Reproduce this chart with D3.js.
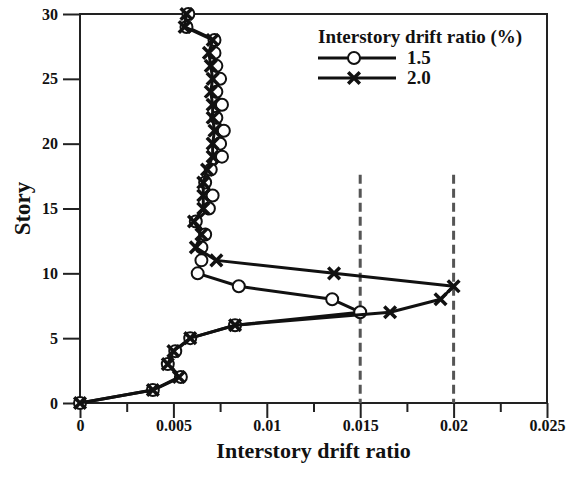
<!DOCTYPE html>
<html>
<head>
<meta charset="utf-8">
<script src="https://cdn.jsdelivr.net/npm/d3@7"></script>
<style>
body { margin: 0; background: #fff; }
text { font-family: "Liberation Serif", "Times New Roman", serif; font-weight: bold; }
</style>
</head>
<body>
<div id="chart"></div>
<script>
var stories = d3.range(0, 31);
var drift15 = [0, 0.0039, 0.0054, 0.0047, 0.0051, 0.0059, 0.0083, 0.015, 0.0135, 0.0085,
	0.0063, 0.0065, 0.0065, 0.0067, 0.0062, 0.0069, 0.0071, 0.0067, 0.007, 0.0076,
	0.0075, 0.0077, 0.0073, 0.0076, 0.0073, 0.0075, 0.0073, 0.0072, 0.0072, 0.0057, 0.0058];
var drift20 = [0, 0.0039, 0.0053, 0.0047, 0.005, 0.0059, 0.0083, 0.0166, 0.0193, 0.02,
	0.0136, 0.0073, 0.0062, 0.0065, 0.0061, 0.0066, 0.0066, 0.0066, 0.0068, 0.0071,
	0.0071, 0.0072, 0.0071, 0.0071, 0.007, 0.0071, 0.007, 0.0069, 0.0071, 0.0056, 0.0057];
var limits = [0.015, 0.02];
var xTicks = [0, 0.005, 0.01, 0.015, 0.02, 0.025];
var xTickLabels = ["0", "0.005", "0.01", "0.015", "0.02", "0.025"];
var yTicks = [0, 5, 10, 15, 20, 25, 30];

var w = 566, h = 480;
var plotL = 80, plotR = 547, plotT = 14, plotB = 403;

var svg = d3.select("#chart").append("svg")
	.attr("width", w)
	.attr("height", h);

var x = d3.scaleLinear().domain([0, 0.025]).range([plotL, plotR]);
var y = d3.scaleLinear().domain([0, 30]).range([plotB, plotT]);

// frame
svg.append("rect")
	.attr("x", plotL).attr("y", plotT)
	.attr("width", plotR - plotL).attr("height", plotB - plotT)
	.attr("fill", "none").attr("stroke", "#222").attr("stroke-width", 2);

// x axis ticks
var xAxis = d3.axisBottom(x)
	.tickValues(xTicks)
	.tickSize(15)
	.tickPadding(2)
	.tickFormat(function(d, i) { return xTickLabels[i]; });
var gx = svg.append("g")
	.attr("transform", "translate(0," + plotB + ")")
	.call(xAxis);
gx.select(".domain").remove();
gx.selectAll("line").attr("stroke", "#222").attr("stroke-width", 2);
gx.selectAll("text").style("font-size", "16px").attr("fill", "#111");

var gxm = svg.append("g")
	.attr("transform", "translate(0," + plotB + ")")
	.call(d3.axisBottom(x).tickValues([0.0025, 0.0075, 0.0125, 0.0175, 0.0225]).tickSize(9).tickFormat(""));
gxm.select(".domain").remove();
gxm.selectAll("line").attr("stroke", "#222").attr("stroke-width", 2);

// y axis ticks
var gy = svg.append("g")
	.attr("transform", "translate(" + plotL + ",0)")
	.call(d3.axisLeft(y).tickValues(yTicks).tickSize(17).tickPadding(5));
gy.select(".domain").remove();
gy.selectAll("line").attr("stroke", "#222").attr("stroke-width", 2);
gy.selectAll("text").style("font-size", "16px").attr("fill", "#111");

// dashed limit lines
svg.selectAll(".limit")
	.data(limits)
	.enter().append("line")
	.attr("class", "limit")
	.attr("x1", function(d) { return x(d); })
	.attr("x2", function(d) { return x(d); })
	.attr("y1", y(17.6))
	.attr("y2", y(0))
	.attr("stroke", "#555")
	.attr("stroke-width", 3)
	.attr("stroke-dasharray", "9,5");

var line = d3.line()
	.x(function(d) { return x(d[0]); })
	.y(function(d) { return y(d[1]); });

var pts15 = stories.map(function(s, i) { return [drift15[i], s]; });
var pts20 = stories.map(function(s, i) { return [drift20[i], s]; });

svg.append("path")
	.datum(pts15)
	.attr("d", line)
	.attr("fill", "none")
	.attr("stroke", "#111")
	.attr("stroke-width", 3)
	.attr("stroke-linejoin", "round");

svg.selectAll(".c15")
	.data(pts15)
	.enter().append("circle")
	.attr("class", "c15")
	.attr("cx", function(d) { return x(d[0]); })
	.attr("cy", function(d) { return y(d[1]); })
	.attr("r", 6)
	.attr("fill", "#fff")
	.attr("stroke", "#111")
	.attr("stroke-width", 2);

svg.append("path")
	.datum(pts20)
	.attr("d", line)
	.attr("fill", "none")
	.attr("stroke", "#111")
	.attr("stroke-width", 3)
	.attr("stroke-linejoin", "round");

var cross = d3.symbol().type(d3.symbolX).size(90);
svg.selectAll(".c20")
	.data(pts20)
	.enter().append("path")
	.attr("class", "c20")
	.attr("transform", function(d) { return "translate(" + x(d[0]) + "," + y(d[1]) + ")"; })
	.attr("d", cross)
	.attr("fill", "none")
	.attr("stroke", "#111")
	.attr("stroke-width", 3.5);

// legend
var lg = svg.append("g").attr("transform", "translate(318,0)");
lg.append("text")
	.attr("x", 0).attr("y", 43)
	.style("font-size", "19px")
	.attr("fill", "#111")
	.text("Interstory drift ratio (%)");

var legendItems = ["1.5", "2.0"];
legendItems.forEach(function(lab, i) {
	var ly = 58 + i * 20;
	lg.append("line")
		.attr("x1", 0).attr("x2", 78)
		.attr("y1", ly).attr("y2", ly)
		.attr("stroke", "#111").attr("stroke-width", 3);
	if (i == 0) {
		lg.append("circle")
			.attr("cx", 36).attr("cy", ly).attr("r", 6)
			.attr("fill", "#fff").attr("stroke", "#111").attr("stroke-width", 2);
	} else {
		lg.append("path")
			.attr("transform", "translate(36," + ly + ")")
			.attr("d", cross)
			.attr("fill", "none").attr("stroke", "#111").attr("stroke-width", 3.5);
	}
	lg.append("text")
		.attr("x", 89).attr("y", ly + 6)
		.style("font-size", "19px")
		.attr("fill", "#111")
		.text(lab);
});

// axis titles
svg.append("text")
	.attr("x", (plotL + plotR) / 2)
	.attr("y", 458)
	.attr("text-anchor", "middle")
	.style("font-size", "22px")
	.attr("fill", "#111")
	.text("Interstory drift ratio");

svg.append("text")
	.attr("transform", "translate(30," + (plotT + plotB) / 2 + ") rotate(-90)")
	.attr("text-anchor", "middle")
	.style("font-size", "23px")
	.attr("fill", "#111")
	.text("Story");
</script>
</body>
</html>
